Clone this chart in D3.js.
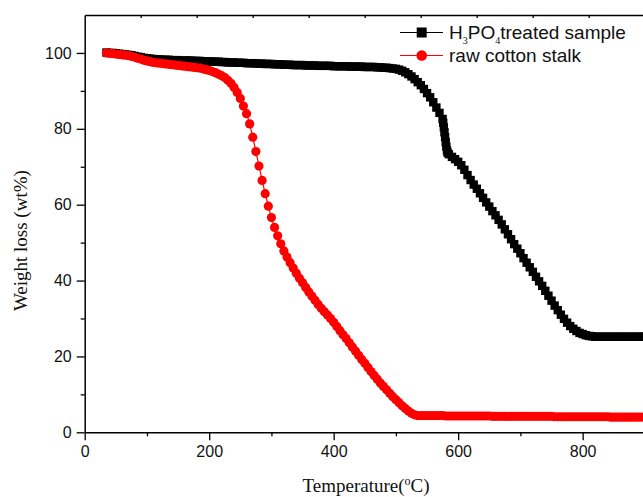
<!DOCTYPE html>
<html>
<head>
<meta charset="utf-8">
<script src="https://cdn.jsdelivr.net/npm/d3@7"></script>
<style>
  html, body { margin: 0; padding: 0; background: #fff; }
  svg { display: block; }
</style>
</head>
<body>
<svg id="chart" width="643" height="497"></svg>
<script>
// ---------------- DATA ----------------
const xTickLabels = [0, 200, 400, 600, 800];
const xMinorTicks = [100, 300, 500, 700, 900];
const yTickLabels = [0, 20, 40, 60, 80, 100];
const yMinorTicks = [10, 30, 50, 70, 90];
const seriesNames = ["H3PO4 treated sample", "raw cotton stalk"];

const tempRaw = [35,40,45,50,55,60,65,70,75,80,85,90,95,100,105,110,115,120,125,130,135,140,145,150,155,160,165,170,175,180,185,190,195,200,205,210,215,220,225,230,235,240,245,250,255,260,265,270,275,280,285,290,295,300,305,310,315,320,325,330,335,340,345,350,355,360,365,370,375,380,385,390,395,400,405,410,415,420,425,430,435,440,445,450,455,460,465,470,475,480,485,490,495,500,505,510,515,520,525,530,535,540,545,550,555,560,565,570,575,580,585,590,595,600,605,610,615,620,625,630,635,640,645,650,655,660,665,670,675,680,685,690,695,700,705,710,715,720,725,730,735,740,745,750,755,760,765,770,775,780,785,790,795,800,805,810,815,820,825,830,835,840,845,850,855,860,865,870,875,880,885,890,895,900];
const weightRaw = [100.0,99.9,99.8,99.7,99.6,99.5,99.4,99.3,99.1,98.9,98.6,98.4,98.1,97.9,97.7,97.5,97.4,97.3,97.2,97.1,97.0,96.9,96.8,96.7,96.6,96.5,96.4,96.3,96.2,96.1,96.0,95.8,95.6,95.4,95.1,94.8,94.4,94.0,93.5,92.8,92.0,90.9,89.6,88.0,86.0,84.0,81.3,77.8,74.0,70.2,66.4,62.9,59.6,56.6,54.0,51.8,49.7,47.8,46.2,44.7,43.3,41.9,40.6,39.4,38.2,37.0,35.9,34.8,33.7,32.7,31.8,30.9,30.0,29.0,27.9,26.8,25.7,24.7,23.6,22.5,21.4,20.3,19.2,18.2,17.1,16.0,15.0,14.0,13.0,12.1,11.2,10.3,9.4,8.6,7.8,7.0,6.3,5.6,5.0,4.6,4.4,4.4,4.4,4.4,4.4,4.4,4.4,4.4,4.4,4.3,4.3,4.3,4.3,4.3,4.3,4.3,4.3,4.3,4.3,4.3,4.3,4.3,4.3,4.3,4.2,4.2,4.2,4.2,4.2,4.2,4.2,4.2,4.2,4.2,4.2,4.2,4.2,4.2,4.2,4.2,4.2,4.2,4.2,4.2,4.1,4.1,4.1,4.1,4.1,4.1,4.1,4.1,4.1,4.1,4.1,4.1,4.1,4.1,4.1,4.1,4.1,4.1,4.0,4.0,4.0,4.0,4.0,4.0,4.0,4.0,4.0,4.0,4.0,4.0];

const tempTreated = [35,40,45,50,55,60,65,70,75,80,85,90,95,100,105,110,115,120,125,130,135,140,145,150,155,160,165,170,175,180,185,190,195,200,205,210,215,220,225,230,235,240,245,250,255,260,265,270,275,280,285,290,295,300,305,310,315,320,325,330,335,340,345,350,355,360,365,370,375,380,385,390,395,400,405,410,415,420,425,430,435,440,445,450,455,460,465,470,475,480,485,490,495,500,505,510,515,520,525,530,535,540,545,550,555,560,565,570,575,576,577,578,579,580,581,582,583,585,590,595,600,605,610,615,620,625,630,635,640,645,650,655,660,665,670,675,680,685,690,695,700,705,710,715,720,725,730,735,740,745,750,755,760,765,770,775,780,785,790,795,800,805,810,815,820,825,830,835,840,845,850,855,860,865,870,875,880,885,890,895,900];
const weightTreated = [100.1,100.0,100.0,99.9,99.8,99.7,99.6,99.5,99.4,99.2,99.0,98.9,98.7,98.6,98.5,98.4,98.3,98.3,98.2,98.2,98.2,98.1,98.1,98.1,98.0,98.0,98.0,98.0,97.9,97.9,97.9,97.8,97.8,97.8,97.7,97.7,97.7,97.6,97.6,97.5,97.5,97.5,97.4,97.4,97.4,97.3,97.3,97.3,97.2,97.2,97.2,97.1,97.1,97.1,97.0,97.0,97.0,96.9,96.9,96.9,96.8,96.8,96.8,96.8,96.7,96.7,96.7,96.7,96.6,96.6,96.6,96.6,96.6,96.5,96.5,96.5,96.5,96.5,96.4,96.4,96.4,96.4,96.4,96.3,96.3,96.3,96.3,96.2,96.2,96.1,96.1,96.0,95.9,95.8,95.6,95.3,94.9,94.4,93.8,93.1,92.3,91.5,90.5,89.4,88.3,87.0,85.6,84.2,82.6,81.6,80.4,79.1,77.8,76.5,75.3,74.3,73.7,73.3,72.6,72.0,71.3,70.4,69.2,67.8,66.5,65.3,64.2,63.0,61.8,60.6,59.5,58.3,57.2,56.0,54.8,53.5,52.2,50.9,49.6,48.4,47.2,45.9,44.7,43.5,42.3,41.0,39.8,38.6,37.3,36.0,34.7,33.4,32.2,31.0,29.9,28.9,28.0,27.3,26.7,26.2,25.9,25.6,25.4,25.3,25.2,25.2,25.2,25.2,25.2,25.2,25.2,25.2,25.2,25.2,25.2,25.2,25.2,25.2,25.2,25.2,25.2];

// ---------------- LAYOUT ----------------
const svg = d3.select("#chart");
const mLeft = 84.7, mRight = 644.9, mTop = 15, mBottom = 432.3;
const x = d3.scaleLinear().domain([0, 900]).range([mLeft, mRight]);
const y = d3.scaleLinear().domain([0, 110]).range([mBottom, mTop]);

const sansFont = "'Liberation Sans', Arial, Helvetica, sans-serif";
const serifFont = "'Liberation Serif', 'Times New Roman', serif";

const zip = (xs, ys) => xs.map((t, i) => ({ t, w: ys[i] })).filter(d => d.w !== undefined);
const treated = zip(tempTreated, weightTreated);
const raw = zip(tempRaw, weightRaw);

// ---------------- AXES ----------------
svg.append("g").attr("transform", `translate(0,${mBottom})`)
  .call(d3.axisBottom(x).tickValues(xTickLabels).tickSize(8).tickSizeOuter(0).tickPadding(5).tickFormat(d3.format("d")));
svg.append("g").attr("transform", `translate(0,${mBottom})`)
  .call(d3.axisBottom(x).tickValues(xMinorTicks).tickSize(4).tickSizeOuter(0).tickFormat(""))
  .select(".domain").remove();

svg.append("g").attr("transform", `translate(${mLeft},0)`)
  .call(d3.axisLeft(y).tickValues(yTickLabels).tickSize(8).tickSizeOuter(0).tickPadding(5).tickFormat(d3.format("d")));
svg.append("g").attr("transform", `translate(${mLeft},0)`)
  .call(d3.axisLeft(y).tickValues(yMinorTicks).tickSize(4).tickSizeOuter(0).tickFormat(""))
  .select(".domain").remove();

// top frame with small inward ticks
const xTop = d3.scaleLinear().domain([0, 10]).range([mLeft, mLeft + 560]);
svg.append("g").attr("transform", `translate(0,${mTop})`)
  .call(d3.axisBottom(xTop).tickValues([1,2,3,4,5,6,7,8,9]).tickSize(3).tickSizeOuter(0).tickFormat(""));

svg.selectAll(".domain").attr("stroke", "#000").attr("stroke-width", 1.5);
svg.selectAll(".tick line").attr("stroke", "#000").attr("stroke-width", 1.3);
svg.selectAll(".tick text").attr("font-family", sansFont).attr("font-size", 16).attr("fill", "#111");

// ---------------- SERIES ----------------
const line = d3.line().x(d => x(d.t)).y(d => y(d.w));

svg.append("path").datum(treated).attr("d", line)
  .attr("fill", "none").attr("stroke", "#000").attr("stroke-width", 1.2);
svg.append("g").selectAll("rect").data(treated).join("rect")
  .attr("x", d => x(d.t) - 4.2).attr("y", d => y(d.w) - 4.2)
  .attr("width", 8.4).attr("height", 8.4).attr("fill", "#000");

svg.append("path").datum(raw).attr("d", line)
  .attr("fill", "none").attr("stroke", "#ff0000").attr("stroke-width", 1.2);
svg.append("g").selectAll("circle").data(raw).join("circle")
  .attr("cx", d => x(d.t)).attr("cy", d => y(d.w)).attr("r", 4.6).attr("fill", "#ff0000");

// ---------------- LEGEND ----------------
const lg = svg.append("g");
const lx1 = 400, lx2 = 443, lmx = 421.7;
lg.append("line").attr("x1", lx1).attr("x2", lx2).attr("y1", 32.5).attr("y2", 32.5).attr("stroke", "#000").attr("stroke-width", 1.2);
lg.append("rect").attr("x", lmx - 5).attr("y", 32.5 - 5).attr("width", 10).attr("height", 10).attr("fill", "#000");
const t1 = lg.append("text").attr("x", 449).attr("y", 38.5).attr("font-family", sansFont).attr("font-size", 19).attr("fill", "#111");
t1.append("tspan").text("H");
t1.append("tspan").attr("font-family", serifFont).attr("font-size", 10).attr("dy", 5).text("3");
t1.append("tspan").attr("dy", -5).text("PO");
t1.append("tspan").attr("font-family", serifFont).attr("font-size", 10).attr("dy", 5).text("4");
t1.append("tspan").attr("dy", -5).text("treated sample");

lg.append("line").attr("x1", lx1).attr("x2", lx2).attr("y1", 55.5).attr("y2", 55.5).attr("stroke", "#ff0000").attr("stroke-width", 1.2);
lg.append("circle").attr("cx", lmx).attr("cy", 55.5).attr("r", 5.3).attr("fill", "#ff0000");
lg.append("text").attr("x", 449).attr("y", 61.5).attr("font-family", sansFont).attr("font-size", 19).attr("fill", "#111").text(seriesNames[1]);

// ---------------- TITLES ----------------
const xt = svg.append("text").attr("x", 366).attr("y", 492)
  .attr("text-anchor", "middle").attr("font-family", serifFont).attr("font-size", 19).attr("fill", "#111");
xt.append("tspan").text("Temperature(");
xt.append("tspan").attr("font-size", 12).attr("dy", -7).text("o");
xt.append("tspan").attr("dy", 7).text("C)");

svg.append("text").attr("transform", `translate(27,${(mTop + mBottom) / 2 + 17}) rotate(-90)`)
  .attr("text-anchor", "middle").attr("font-family", serifFont).attr("font-size", 19).attr("fill", "#111")
  .text("Weight loss (wt%)");
</script>
</body>
</html>
